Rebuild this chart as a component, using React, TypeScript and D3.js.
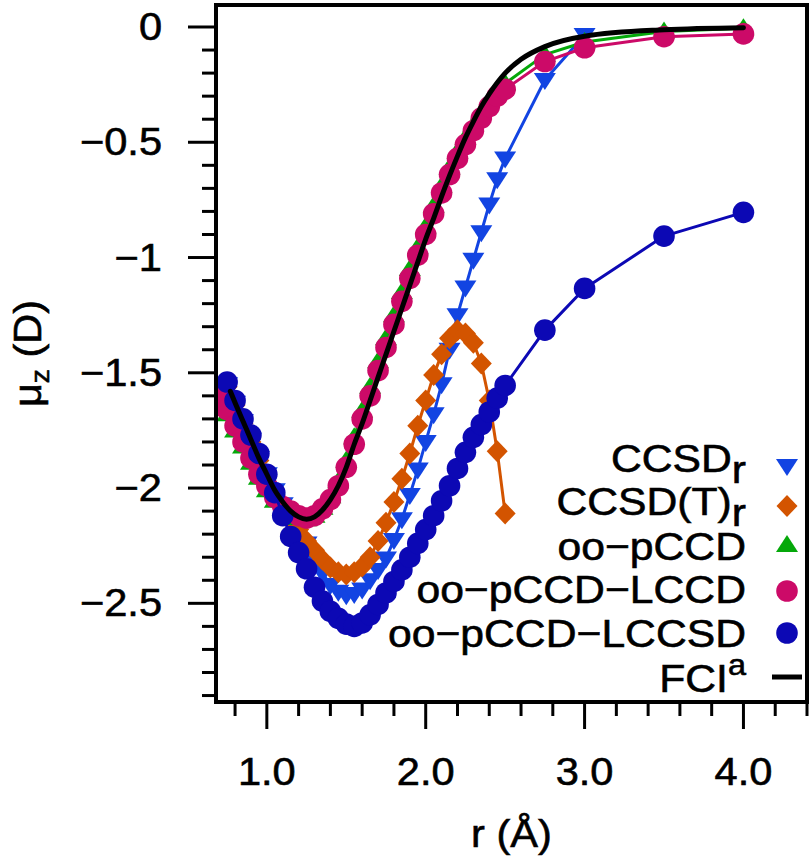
import React from 'react';
import * as d3 from 'd3';

// ---------- data ----------
const rLCCSD = [0.75, 0.80, 0.85, 0.90, 0.95, 1.00, 1.05, 1.10, 1.15, 1.20, 1.25, 1.30, 1.35, 1.40, 1.45, 1.50, 1.55, 1.60, 1.65, 1.70, 1.75, 1.80, 1.85, 1.90, 1.95, 2.00, 2.05, 2.10, 2.15, 2.20, 2.25, 2.30, 2.35, 2.40, 2.45, 2.50, 2.75, 3.00, 3.50, 4.00];
const muLCCSD = [-1.54, -1.62, -1.70, -1.77, -1.85, -1.94, -2.02, -2.12, -2.21, -2.28, -2.35, -2.43, -2.49, -2.535, -2.565, -2.59, -2.60, -2.585, -2.55, -2.505, -2.455, -2.405, -2.355, -2.30, -2.24, -2.18, -2.12, -2.055, -1.99, -1.915, -1.845, -1.78, -1.725, -1.67, -1.61, -1.555, -1.315, -1.134, -0.907, -0.804];

const rLCCD = [0.70, 0.75, 0.80, 0.85, 0.90, 0.95, 1.00, 1.05, 1.10, 1.15, 1.20, 1.25, 1.30, 1.35, 1.40, 1.45, 1.50, 1.55, 1.60, 1.65, 1.70, 1.75, 1.80, 1.85, 1.90, 1.95, 2.00, 2.05, 2.10, 2.15, 2.20, 2.25, 2.30, 2.35, 2.40, 2.45, 2.50, 2.75, 3.00, 3.50, 4.00];
const muLCCD = [-1.60, -1.66, -1.73, -1.80, -1.87, -1.94, -1.99, -2.04, -2.08, -2.10, -2.12, -2.13, -2.12, -2.09, -2.05, -1.99, -1.91, -1.81, -1.70, -1.60, -1.49, -1.39, -1.29, -1.19, -1.09, -0.99, -0.90, -0.81, -0.72, -0.64, -0.57, -0.51, -0.45, -0.395, -0.345, -0.30, -0.27, -0.15, -0.09, -0.042, -0.03];
const muPCCD = [-1.62, -1.68, -1.75, -1.82, -1.89, -1.955, -2.01, -2.055, -2.09, -2.115, -2.13, -2.135, -2.12, -2.085, -2.035, -1.97, -1.88, -1.78, -1.665, -1.56, -1.45, -1.35, -1.25, -1.15, -1.05, -0.955, -0.865, -0.775, -0.69, -0.61, -0.54, -0.48, -0.425, -0.37, -0.32, -0.28, -0.245, -0.12, -0.065, -0.02, -0.005];

const rCCSD = [0.75, 0.80, 0.85, 0.90, 0.95, 1.00, 1.05, 1.10, 1.15, 1.20, 1.25, 1.30, 1.35, 1.40, 1.45, 1.50, 1.55, 1.60, 1.65, 1.70, 1.75, 1.80, 1.85, 1.90, 1.95, 2.00, 2.05, 2.10, 2.15, 2.20, 2.25, 2.30, 2.35, 2.40, 2.45, 2.50, 2.75, 3.00];
const muCCSD = [-1.55, -1.63, -1.71, -1.79, -1.87, -1.94, -2.01, -2.07, -2.13, -2.18, -2.24, -2.31, -2.37, -2.42, -2.45, -2.465, -2.46, -2.44, -2.40, -2.355, -2.305, -2.225, -2.135, -2.03, -1.92, -1.80, -1.68, -1.55, -1.40, -1.25, -1.13, -1.01, -0.89, -0.77, -0.66, -0.57, -0.23, -0.035];

const rCCSDT = [0.75, 0.80, 0.85, 0.90, 0.95, 1.00, 1.05, 1.10, 1.15, 1.20, 1.25, 1.30, 1.35, 1.40, 1.45, 1.50, 1.55, 1.60, 1.65, 1.70, 1.75, 1.80, 1.85, 1.90, 1.95, 2.00, 2.05, 2.10, 2.15, 2.20, 2.25, 2.30, 2.35, 2.40, 2.45, 2.50];
const muCCSDT = [-1.56, -1.64, -1.72, -1.80, -1.88, -1.95, -2.02, -2.08, -2.13, -2.18, -2.23, -2.27, -2.31, -2.345, -2.365, -2.375, -2.365, -2.34, -2.30, -2.23, -2.15, -2.06, -1.96, -1.85, -1.73, -1.62, -1.51, -1.42, -1.35, -1.315, -1.33, -1.37, -1.46, -1.62, -1.84, -2.11];

const rFCI = [0.77, 0.80, 0.85, 0.90, 0.95, 1.00, 1.05, 1.10, 1.15, 1.20, 1.25, 1.30, 1.35, 1.40, 1.45, 1.50, 1.55, 1.60, 1.65, 1.70, 1.75, 1.80, 1.85, 1.90, 1.95, 2.00, 2.05, 2.10, 2.15, 2.20, 2.25, 2.30, 2.35, 2.40, 2.50, 2.60, 2.75, 3.00, 3.50, 4.00];
const muFCI = [-1.58, -1.63, -1.71, -1.79, -1.87, -1.94, -2.01, -2.06, -2.10, -2.125, -2.135, -2.125, -2.095, -2.05, -1.99, -1.91, -1.81, -1.72, -1.62, -1.52, -1.42, -1.32, -1.22, -1.12, -1.02, -0.92, -0.83, -0.735, -0.645, -0.56, -0.48, -0.41, -0.345, -0.29, -0.20, -0.14, -0.085, -0.04, -0.012, -0.003];

const xMajorTicks = [1, 2, 3, 4];
const xTickLabels = ['1.0', '2.0', '3.0', '4.0'];
const xMinorTicks = [0.8, 1.2, 1.4, 1.6, 1.8, 2.2, 2.4, 2.6, 2.8, 3.2, 3.4, 3.6, 3.8, 4.2, 4.4];
const yMajorTicks = [0, -0.5, -1, -1.5, -2, -2.5];
const yTickLabels = ['0', '\u22120.5', '\u22121', '\u22121.5', '\u22122', '\u22122.5'];
const yMinorTicks = [-0.1, -0.2, -0.3, -0.4, -0.6, -0.7, -0.8, -0.9, -1.1, -1.2, -1.3, -1.4, -1.6, -1.7, -1.8, -1.9, -2.1, -2.2, -2.3, -2.4, -2.6, -2.7, -2.8, -2.9];

const seriesNames = ['CCSD', 'CCSD(T)', 'oo\u2212pCCD', 'oo\u2212pCCD\u2212LCCD', 'oo\u2212pCCD\u2212LCCSD', 'FCI'];
const seriesColors = ['#1244e2', '#d35400', '#05a80a', '#cc0a68', '#0c08b4', '#000000'];

// ---------- layout ----------
const W = 810, H = 858;
const L = 216, R = 807, T = 5, B = 702;
const FONT = "'Liberation Sans', Arial, Helvetica, sans-serif";
const SX = 1.08; // horizontal stretch of the glyphs

type Shape = 'tridown' | 'diamond' | 'triup' | 'circle';

function markerPath(shape: Shape, cx: number, cy: number): string {
  if (shape === 'tridown') return `M${cx - 11},${cy - 7}L${cx + 11},${cy - 7}L${cx},${cy + 10}Z`;
  if (shape === 'triup') return `M${cx - 11},${cy + 7}L${cx + 11},${cy + 7}L${cx},${cy - 10}Z`;
  if (shape === 'diamond') return `M${cx},${cy - 11}L${cx + 10.5},${cy}L${cx},${cy + 11}L${cx - 10.5},${cy}Z`;
  return '';
}

function SText(props: { x: number; y: number; anchor: string; size: number; children?: React.ReactNode; rotate?: number }) {
  const { x, y, anchor, size, children, rotate } = props;
  return (
    <text
      transform={`translate(${x},${y})${rotate ? ` rotate(${rotate})` : ''} scale(${SX},1)`}
      textAnchor={anchor}
      fontSize={size}
      fill="#000"
      stroke="#000"
      strokeWidth={0.6}
    >
      {children}
    </text>
  );
}

export default function App() {
  const x = d3.scaleLinear().domain([0.68, 4.4]).range([L, R]);
  const y = d3.scaleLinear().domain([0.0954, -2.928]).range([T, B]);
  const line = d3.line<[number, number]>().x(d => x(d[0])).y(d => y(d[1]));
  const fciLine = d3.line<[number, number]>().x(d => x(d[0])).y(d => y(d[1])).curve(d3.curveMonotoneX);

  const series: { r: number[]; mu: number[]; color: string; shape: Shape }[] = [
    { r: rCCSD, mu: muCCSD, color: seriesColors[0], shape: 'tridown' },
    { r: rCCSDT, mu: muCCSDT, color: seriesColors[1], shape: 'diamond' },
    { r: rLCCD, mu: muPCCD, color: seriesColors[2], shape: 'triup' },
    { r: rLCCD, mu: muLCCD, color: seriesColors[3], shape: 'circle' },
    { r: rLCCSD, mu: muLCCSD, color: seriesColors[4], shape: 'circle' },
  ];

  const legendShapes: (Shape | 'line')[] = ['tridown', 'diamond', 'triup', 'circle', 'circle', 'line'];
  const legendBase = [472, 515, 560, 603, 647, 692];
  const legendMarkY = [466, 506, 545, 591, 633, 677];
  const textEnd = 746;
  const markerX = 787;

  return (
    <svg width={W} height={H} style={{ position: 'absolute', left: 0, top: 0, background: '#fff' }} fontFamily={FONT}>
      <defs>
        <clipPath id="plotclip">
          <rect x={L + 2} y={T + 2} width={R - L - 4} height={B - T - 4} />
        </clipPath>
      </defs>
      <rect x={0} y={0} width={W} height={H} fill="#fff" />

      <g clipPath="url(#plotclip)">
        {series.map((s, i) => {
          const pts: [number, number][] = s.r.map((r, j) => [r, s.mu[j]]);
          return (
            <g key={i}>
              <path d={line(pts) || ''} fill="none" stroke={s.color} strokeWidth={3} strokeLinejoin="round" />
              {pts.map((p, j) =>
                s.shape === 'circle' ? (
                  <circle key={j} cx={x(p[0])} cy={y(p[1])} r={10.8} fill={s.color} />
                ) : (
                  <path key={j} d={markerPath(s.shape, x(p[0]), y(p[1]))} fill={s.color} />
                )
              )}
            </g>
          );
        })}
        <path
          d={fciLine(rFCI.map((r, j) => [r, muFCI[j]] as [number, number])) || ''}
          fill="none"
          stroke="#000"
          strokeWidth={5}
          strokeLinecap="round"
          strokeLinejoin="round"
        />
      </g>

      {/* frame */}
      <rect x={L} y={T} width={R - L} height={B - T} fill="none" stroke="#000" strokeWidth={4} />

      {/* y ticks */}
      {yMajorTicks.map((v, i) => (
        <g key={'ym' + i}>
          <line x1={L - 28} x2={L} y1={y(v)} y2={y(v)} stroke="#000" strokeWidth={3} />
          <SText x={162} y={y(v) + 13} anchor="end" size={38.5}>{yTickLabels[i]}</SText>
        </g>
      ))}
      {yMinorTicks.map((v, i) => (
        <line key={'yn' + i} x1={L - 14} x2={L} y1={y(v)} y2={y(v)} stroke="#000" strokeWidth={3} />
      ))}

      {/* x ticks */}
      {xMajorTicks.map((v, i) => (
        <g key={'xm' + i}>
          <line x1={x(v)} x2={x(v)} y1={B} y2={B + 27} stroke="#000" strokeWidth={3} />
          <SText x={x(v)} y={785} anchor="middle" size={38.5}>{xTickLabels[i]}</SText>
        </g>
      ))}
      {xMinorTicks.map((v, i) => (
        <line key={'xn' + i} x1={x(v)} x2={x(v)} y1={B} y2={B + 14} stroke="#000" strokeWidth={3} />
      ))}

      {/* axis titles */}
      <SText x={(L + R) / 2} y={847} anchor="middle" size={38.5}>r (Å)</SText>
      <SText x={41} y={(T + B) / 2} anchor="middle" size={38.5} rotate={-90}>
        μ<tspan fontSize={26} dy={8}>z</tspan>
        <tspan dy={-8}> (D)</tspan>
      </SText>

      {/* legend */}
      {seriesNames.map((name, i) => {
        const by = legendBase[i];
        const cy = legendMarkY[i];
        const shape = legendShapes[i];
        return (
          <g key={'lg' + i}>
            <SText x={textEnd} y={by} anchor="end" size={39.5}>
              {name}
              {i < 2 ? <tspan dy={11}>r</tspan> : null}
              {i === 5 ? <tspan fontSize={30} dy={-17}>a</tspan> : null}
            </SText>
            {shape === 'line' ? (
              <line x1={772} x2={802} y1={cy} y2={cy} stroke="#000" strokeWidth={5} />
            ) : shape === 'circle' ? (
              <circle cx={markerX} cy={cy} r={10.8} fill={seriesColors[i]} />
            ) : (
              <path d={markerPath(shape, markerX, cy)} fill={seriesColors[i]} />
            )}
          </g>
        );
      })}
    </svg>
  );
}
